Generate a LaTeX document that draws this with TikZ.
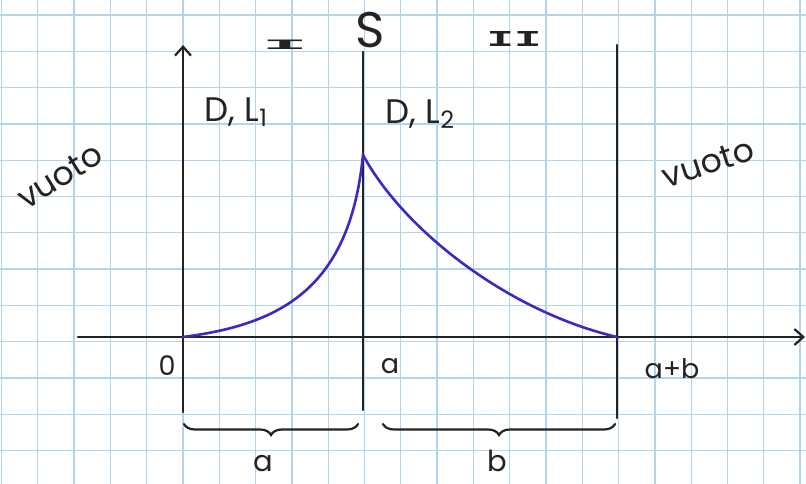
\documentclass[tikz,border=0pt]{standalone}
\usepackage{fontspec}
\setmainfont{Poppins}
\newfontfamily\numfont{Liberation Mono}
\usetikzlibrary{calc,arrows.meta,decorations.pathreplacing}
\definecolor{gridblue}{RGB}{178,212,236}
\definecolor{penblue}{RGB}{62,40,190}
\definecolor{ink}{RGB}{35,35,35}

\begin{document}
\begin{tikzpicture}[x=1pt, y=-1pt, line cap=round]
  \useasboundingbox (0,0) rectangle (806,484);
  \fill[white] (0,0) rectangle (806,484);
  % squared paper
  \foreach \x in {0,...,22}
    \draw[gridblue, line width=1.3pt] ({1.5+36.3*\x},0) -- ({1.5+36.3*\x},484);
  \foreach \y in {0,...,12}
    \draw[gridblue, line width=1.3pt] (0,{15+36.3*\y}) -- (806,{15+36.3*\y});
  % axes and walls
  \coordinate (O) at (183,337);
  \coordinate (A) at (363,337);
  \coordinate (AB) at (617,337);
  \coordinate (P) at (363,155);
  \draw[ink, line width=2.2pt, ->, >={Straight Barb[length=9pt, width=16pt]}] (183,412) -- (183,45);
  \draw[ink, line width=2.2pt, ->, >={Straight Barb[length=9pt, width=16pt]}] (78,337) -- (805,337);
  \draw[ink, line width=2.2pt] (363,410) -- (363,52);
  \draw[ink, line width=2.2pt] (617,418) -- (617,45);
  % the curve
  \draw[penblue, line width=2.6pt] (O) .. controls (284,324) and (350,286) .. (P)
    .. controls (405,232) and (510,312) .. (AB);
  % braces
  \draw[ink, line width=2.2pt, decorate, decoration={brace, mirror, amplitude=11pt}] (184,424) -- (358,424);
  \draw[ink, line width=2.2pt, decorate, decoration={brace, mirror, amplitude=11pt}] (383,424) -- (615,424);
  % labels
  \node[ink, font=\fontsize{50}{50}\selectfont] (S) at (370,30) {S};
  \node[ink, font=\numfont\bfseries\fontsize{24}{24}\selectfont] (I) at (285,45) {\scalebox{3.2}[0.6]{I}};
  \node[ink, font=\numfont\bfseries\fontsize{24}{24}\selectfont] (II) at (514,39) {\scalebox{1.9}[0.95]{II}};
  \node[ink, font=\fontsize{34}{34}\selectfont] (DL1) at (236,112)
    {D, L\raisebox{-0.15em}{\fontsize{24}{24}\selectfont 1}};
  \node[ink, font=\fontsize{34}{34}\selectfont] (DL2) at (420,114)
    {D, L\raisebox{-0.15em}{\fontsize{24}{24}\selectfont 2}};
  \node[ink, rotate=32, font=\fontsize{33}{33}\selectfont] (V1) at (60,176) {vuoto};
  \node[ink, rotate=18, font=\fontsize{33}{33}\selectfont] (V2) at (708,163) {vuoto};
  \node[ink, font=\fontsize{27}{27}\selectfont] (l0) at (167,366) {0};
  \node[ink, font=\fontsize{27}{27}\selectfont] (la) at (390,366) {a};
  \node[ink, font=\fontsize{27}{27}\selectfont] (lab) at (672,369) {a+b};
  \node[ink, font=\fontsize{29}{29}\selectfont] (ba) at (263,464) {a};
  \node[ink, font=\fontsize{29}{29}\selectfont] (bb) at (497,461) {b};
\end{tikzpicture}
\end{document}
